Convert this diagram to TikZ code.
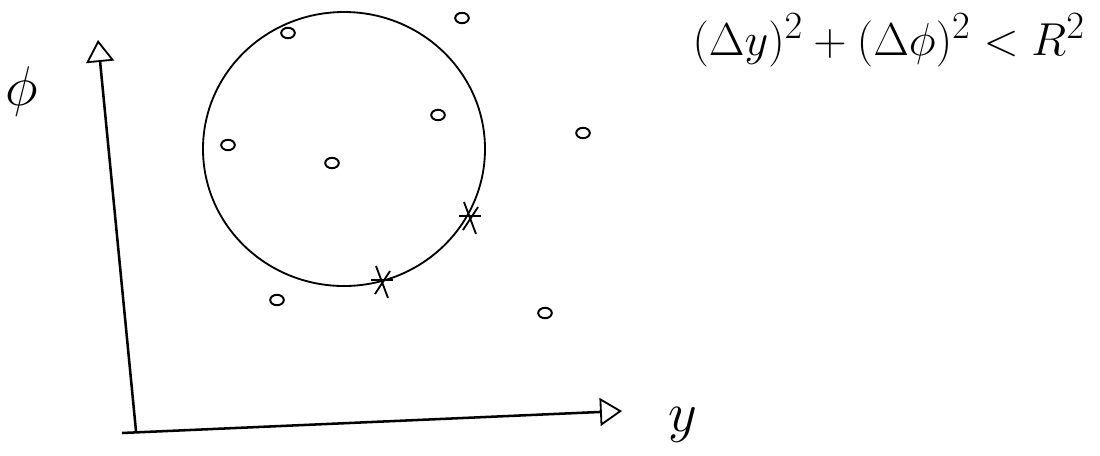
\documentclass[tikz,border=0pt]{standalone}
\usepackage{amsmath}
\usetikzlibrary{positioning,arrows.meta,shapes.geometric}

\begin{document}
\begin{tikzpicture}[x=0.025cm, y=-0.025cm,
  axis/.style={line width=1.8pt, -{Triangle[open, length=5.5mm, width=7mm, line width=1.3pt]}},
  ring/.style={line width=1.3pt},
  dot/.style={draw, ellipse, line width=1.4pt, minimum width=3.4mm, minimum height=2.6mm, inner sep=0pt},
  hit/.style={line width=1.3pt},
  lab/.style={font=\Huge, scale=1.6, inner sep=0pt}]
\useasboundingbox (0,0) rectangle (1100,455);
% axes
\coordinate (corner) at (136,431);
\coordinate (ytail) at (122,433);
\coordinate (phitip) at (98,40);
\coordinate (ytip) at (622,411);
\draw[axis] (corner) -- (phitip);
\draw[axis] (ytail) -- (ytip);
\node[lab] (philab) at (22,92) {$\phi$};
\node[lab] (ylab) at (683,425) {$y$};
% cone boundary
\draw[ring] (344,149) ellipse [x radius=141, y radius=137];
% particles
\node[dot] (p1) at (288,33) {};
\node[dot] (p2) at (462,18) {};
\node[dot] (p3) at (438,115) {};
\node[dot] (p4) at (228,145) {};
\node[dot] (p5) at (332,163) {};
\node[dot] (p6) at (583,133) {};
\node[dot] (p7) at (277,300) {};
\node[dot] (p8) at (545,313) {};
% particles on the edge
\foreach \c in {(470,218),(382,282)} {
  \draw[hit] \c ++(-6,-16) -- ++(12,32);
  \draw[hit] \c ++(-11,-2) -- ++(22,0);
  \draw[hit] \c ++(8,-11) -- ++(-15,23);
}
% condition
\node[font=\Huge, scale=1.32, anchor=west] (cond) at (686,40)
  {$(\Delta y)^2 + (\Delta \phi)^2 < R^2$};
\end{tikzpicture}
\end{document}
